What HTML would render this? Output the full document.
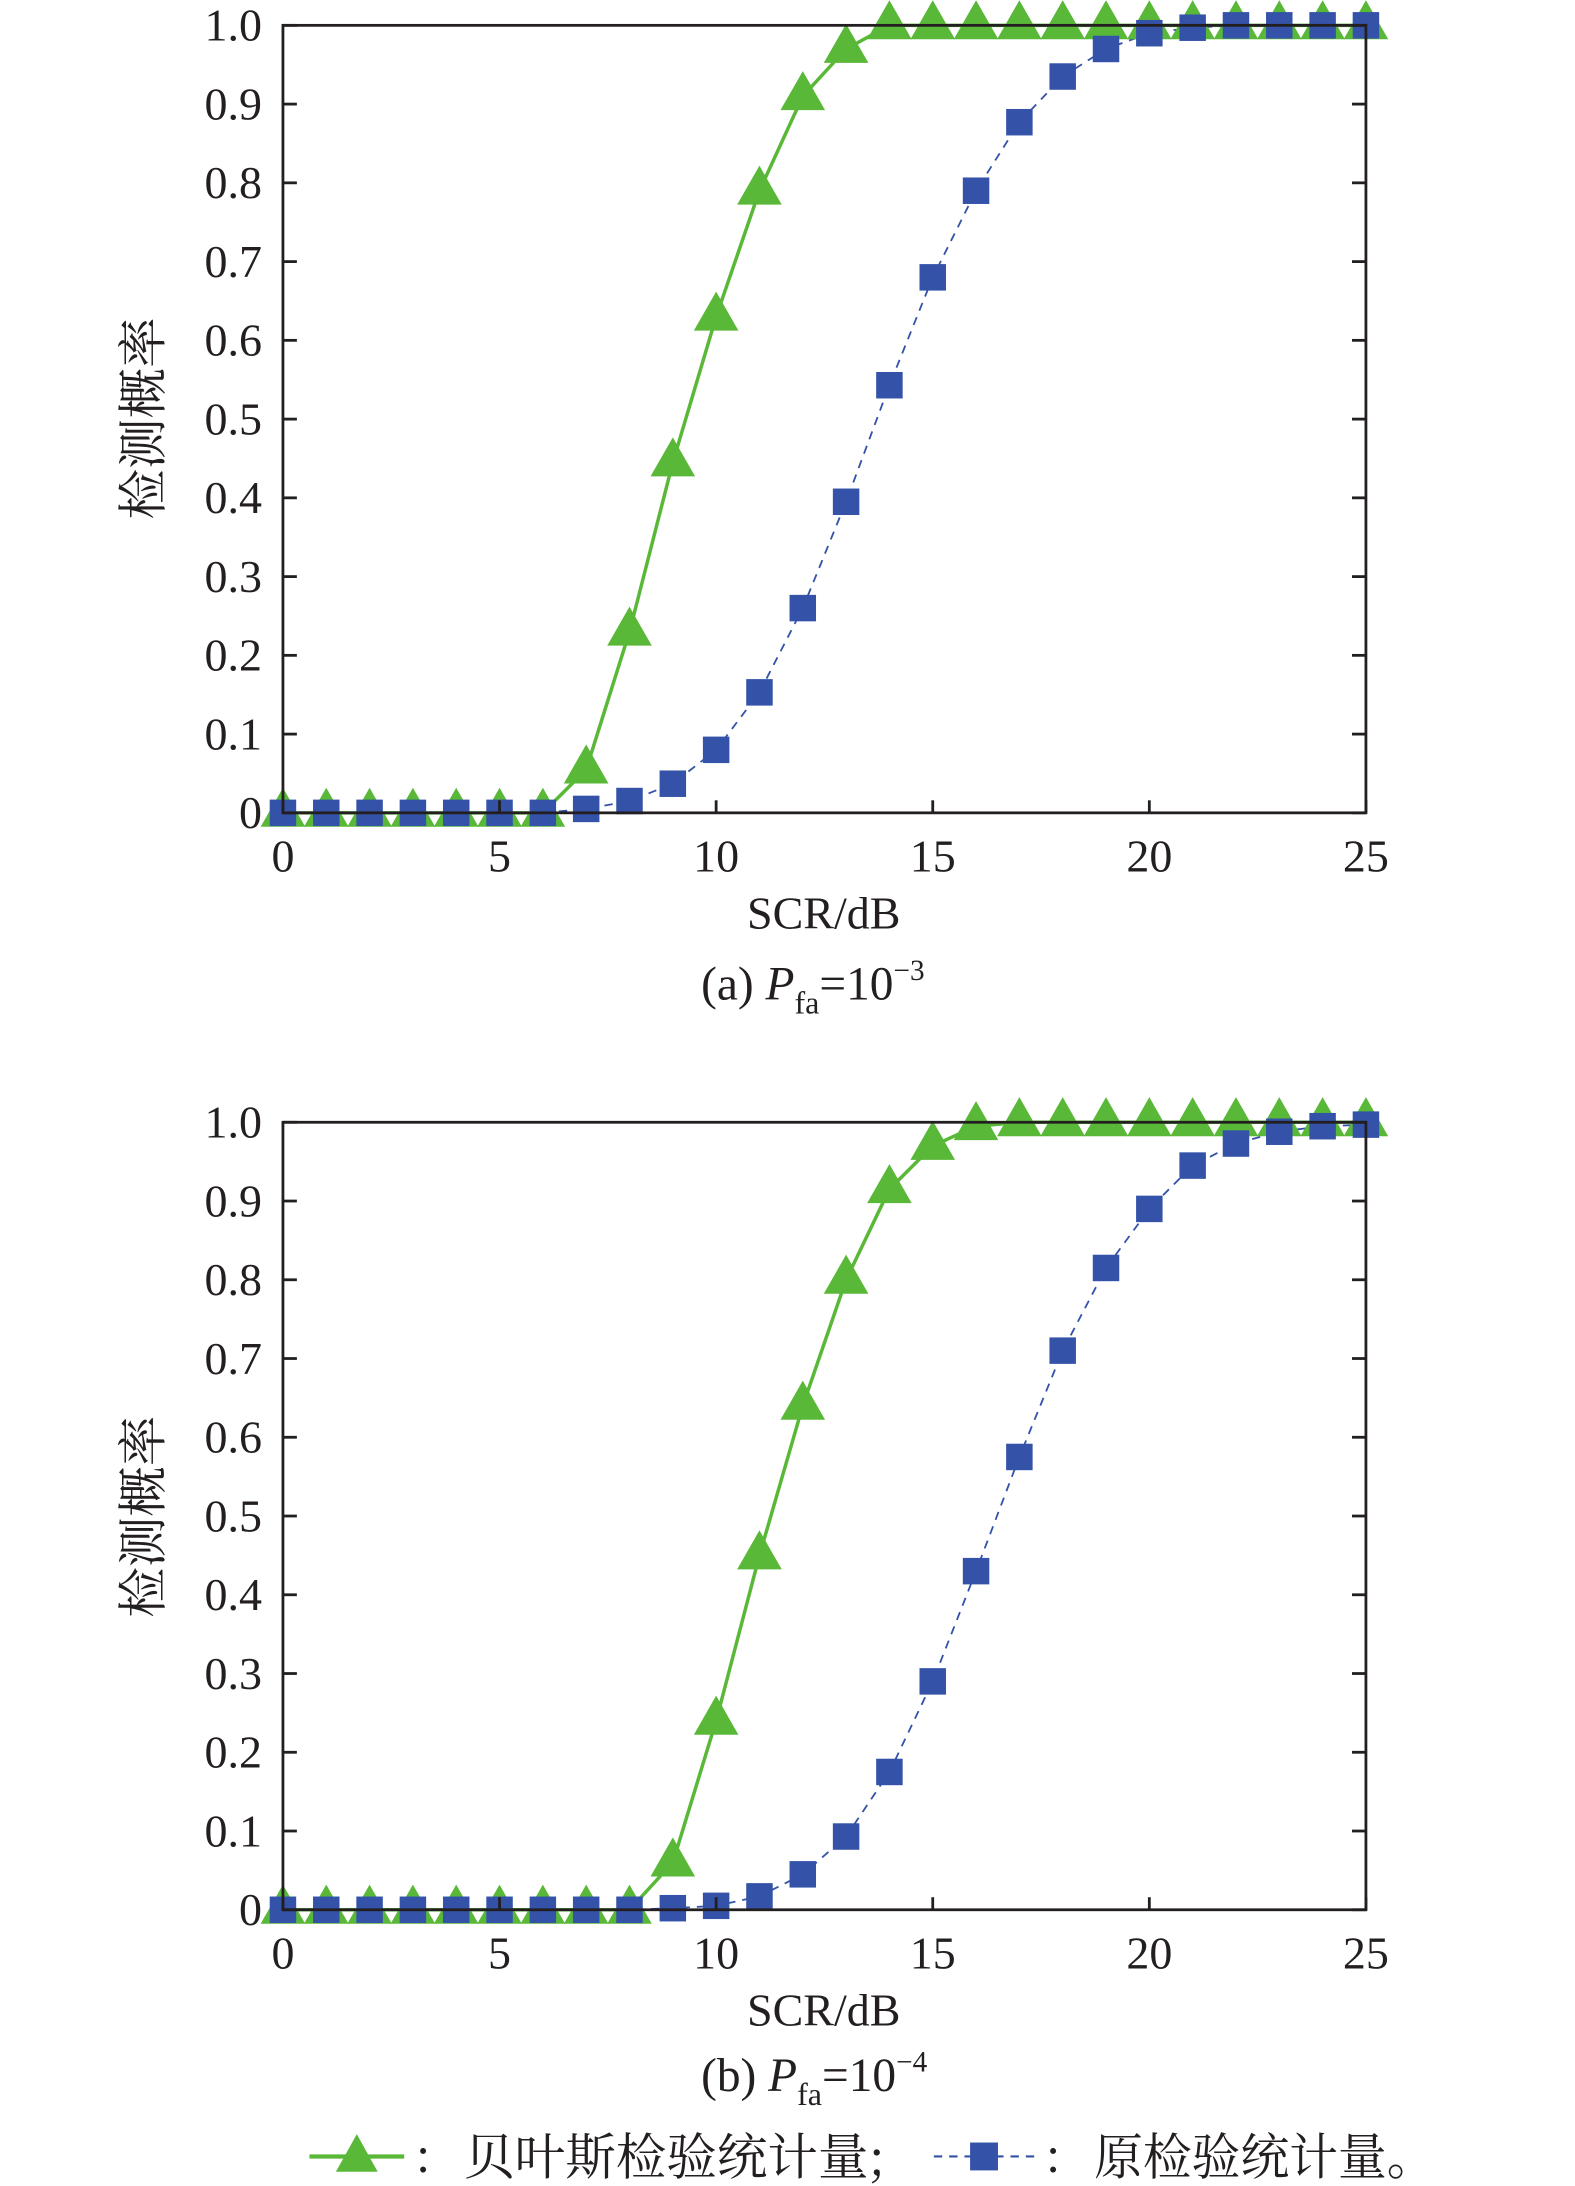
<!DOCTYPE html>
<html><head><meta charset="utf-8"><style>
html,body{margin:0;padding:0;background:#fff;}
svg{display:block;}
text{font-family:"Liberation Serif","Noto Serif CJK SC",serif;fill:#231f20;}
</style></head><body>
<svg id="s" width="1575" height="2186" viewBox="0 0 1130 1568" xmlns="http://www.w3.org/2000/svg">
<g id="p1"></g><g id="p2"></g>
<text x="103" y="300" font-size="36" transform="rotate(-90 103 300) translate(0 12)" text-anchor="middle" textLength="145" lengthAdjust="spacingAndGlyphs" style="font-family:'Noto Serif CJK SC',serif">检测概率</text>
<text x="103" y="1088" font-size="36" transform="rotate(-90 103 1088) translate(0 12)" text-anchor="middle" textLength="145" lengthAdjust="spacingAndGlyphs" style="font-family:'Noto Serif CJK SC',serif">检测概率</text>
<text x="591" y="666" font-size="33" text-anchor="middle">SCR/dB</text>
<text x="591" y="1453" font-size="33" text-anchor="middle">SCR/dB</text>
<text x="503" y="717" font-size="34">(a) <tspan font-style="italic">P</tspan><tspan font-size="23" dy="10">fa</tspan><tspan dy="-10">=10</tspan><tspan font-size="21" dy="-14">−3</tspan></text>
<text x="503" y="1500" font-size="34">(b) <tspan font-style="italic">P</tspan><tspan font-size="23" dy="10">fa</tspan><tspan dy="-10">=10</tspan><tspan font-size="21" dy="-14">−4</tspan></text>
<line x1="222" y1="1547" x2="290" y2="1547" stroke="#5ab838" stroke-width="3"/>
<polygon points="256,1531 241,1558 271,1558" fill="#5ab838"/>
<text x="298" y="1558" font-size="34" style="font-family:'Noto Serif CJK SC',serif">:</text>
<text x="333" y="1560" font-size="36" textLength="302" lengthAdjust="spacingAndGlyphs" style="font-family:'Noto Serif CJK SC',serif">贝叶斯检验统计量;</text>
<line x1="670" y1="1547" x2="742" y2="1547" stroke="#3352a8" stroke-width="1.5" stroke-dasharray="6,5"/>
<rect x="696" y="1537" width="20" height="20" fill="#3352a8"/>
<text x="750" y="1558" font-size="34" style="font-family:'Noto Serif CJK SC',serif">:</text>
<text x="785" y="1560" font-size="36" textLength="245" lengthAdjust="spacingAndGlyphs" style="font-family:'Noto Serif CJK SC',serif">原检验统计量。</text>
</svg>
<script>
var NS="http://www.w3.org/2000/svg";
function el(p,t,a){var e=document.createElementNS(NS,t);for(var k in a)e.setAttribute(k,a[k]);p.appendChild(e);return e;}
function plot(g,top,G,B){
 var bot=top+565,X=function(x){return 203+x*31.08},Y=function(y){return bot-y*565};
 var gp=G.map(function(v,i){return X(i)+","+Y(v)}).join(" ");
 var bp=B.map(function(v,i){return X(i)+","+Y(v)}).join(" ");
 el(g,"polyline",{points:gp,fill:"none",stroke:"#5ab838","stroke-width":2.5});
 el(g,"polyline",{points:bp,fill:"none",stroke:"#3352a8","stroke-width":1.3,"stroke-dasharray":"6,5"});
 G.forEach(function(v,i){var x=X(i),y=Y(v);el(g,"polygon",{points:(x)+","+(y-18)+" "+(x-16)+","+(y+10)+" "+(x+16)+","+(y+10),fill:"#5ab838"});});
 B.forEach(function(v,i){var x=X(i),y=Y(v);el(g,"rect",{x:x-9.5,y:y-9.5,width:19,height:19,fill:"#3352a8"});});
 el(g,"rect",{x:203,y:top,width:777,height:565,fill:"none",stroke:"#231f20","stroke-width":2});
 for(var k=0;k<=10;k++){var y=Y(k/10);
  el(g,"line",{x1:203,y1:y,x2:213,y2:y,stroke:"#231f20","stroke-width":2});
  el(g,"line",{x1:970,y1:y,x2:980,y2:y,stroke:"#231f20","stroke-width":2});
  var t=el(g,"text",{x:188,y:y+11,"font-size":33,"text-anchor":"end"});t.textContent=k==0?"0":(k==10?"1.0":"0."+k);}
 for(var k=0;k<=5;k++){var x=X(k*5);
  el(g,"line",{x1:x,y1:bot,x2:x,y2:bot-9,stroke:"#231f20","stroke-width":2});
  var t=el(g,"text",{x:x,y:bot+42,"font-size":33,"text-anchor":"middle"});t.textContent=String(k*5);}
}
var z7=[0,0,0,0,0,0,0];
plot(document.getElementById("p1"),18,
 z7.concat([0.055,0.23,0.445,0.63,0.79,0.91,0.97,1,1,1,1,1,1,1,1,1,1,1,1]),
 z7.concat([0.005,0.015,0.037,0.08,0.153,0.26,0.395,0.543,0.68,0.79,0.877,0.935,0.97,0.99,0.997,1,1,1,1]));
plot(document.getElementById("p2"),805,
 [0,0,0,0,0,0,0,0,0,0.06,0.24,0.45,0.64,0.8,0.915,0.97,0.995,1,1,1,1,1,1,1,1,1],
 [0,0,0,0,0,0,0,0,0,0.002,0.005,0.017,0.045,0.093,0.175,0.29,0.43,0.575,0.71,0.815,0.89,0.945,0.973,0.988,0.995,0.997]);
</script>
</body></html>
